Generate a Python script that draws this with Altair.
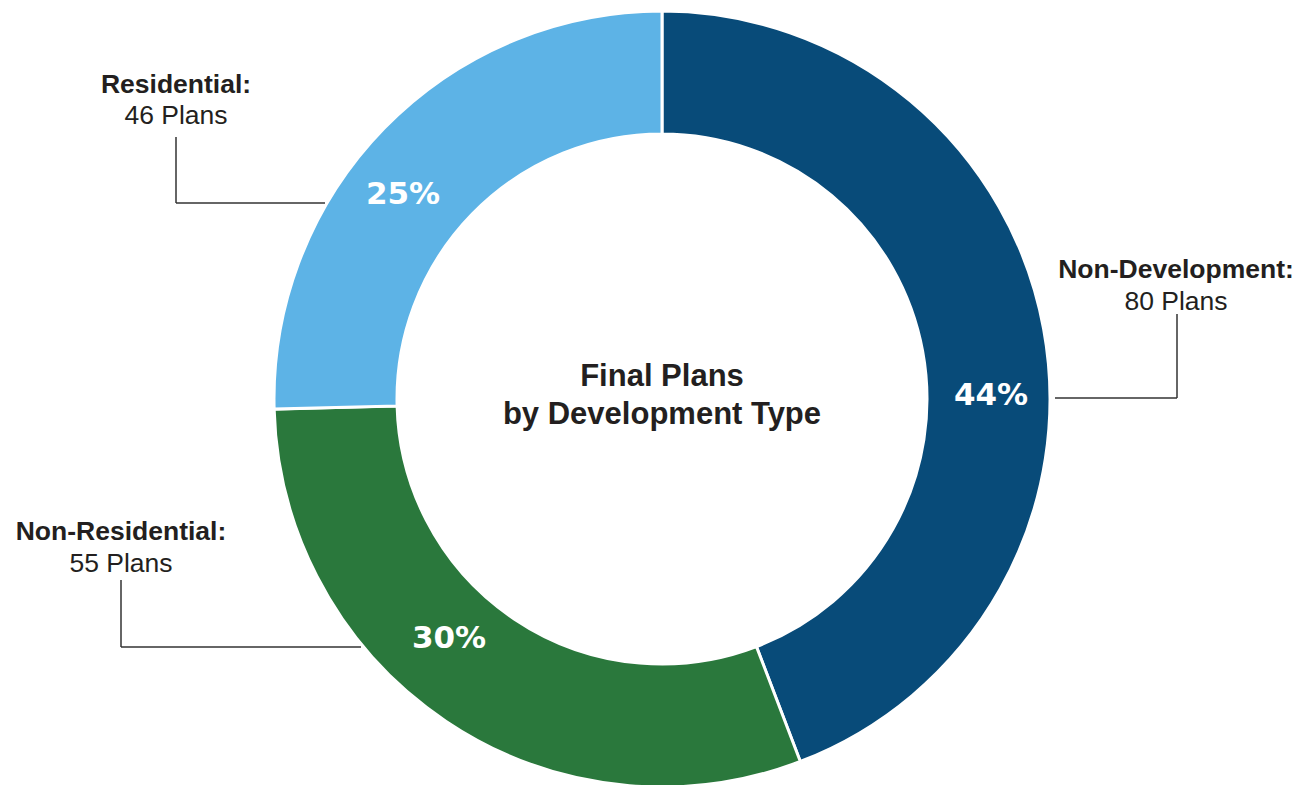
import altair as alt
import pandas as pd

categories = ["Non-Development", "Non-Residential", "Residential"]
plans = [80, 55, 46]
colors = ["#084B79", "#2A783C", "#5DB3E6"]
center_title = ["Final Plans", "by Development Type"]

total = sum(plans)
df = pd.DataFrame({
    "category": categories,
    "plans": plans,
    "idx": list(range(len(categories))),
    "pct": [f"{round(100 * p / total)}%" for p in plans],
    "name": [c + ":" for c in categories],
    "count_label": [f"{p} Plans" for p in plans],
})

# layout (chart coords = page coords - 8)
OFF = 8
CX, CY = 662 - OFF, 399 - OFF
R_OUT, R_IN = 388, 265

pct_pos = {"Non-Development": (991, 396), "Non-Residential": (449, 639), "Residential": (403, 195)}
label_pos = {"Non-Development": (1176, 278, 310), "Non-Residential": (121, 540, 572), "Residential": (176, 93, 124)}
leaders = {
    "Non-Development": [((1055, 398), (1177, 398)), ((1177, 398), (1177, 314))],
    "Non-Residential": [((121, 647), (361, 647)), ((121, 647), (121, 580))],
    "Residential": [((176, 203), (325, 203)), ((176, 203), (176, 137))],
}

base = alt.Chart(df)

arc = base.mark_arc(outerRadius=R_OUT, innerRadius=R_IN, stroke="white", strokeWidth=3).encode(
    theta=alt.Theta("plans:Q", stack=True),
    color=alt.Color("category:N", scale=alt.Scale(domain=categories, range=colors), legend=None),
    order=alt.Order("idx:Q"),
    x=alt.value(CX),
    y=alt.value(CY),
)

layers = [arc]

for cat in categories:
    px, py = pct_pos[cat]
    layers.append(
        base.transform_filter(alt.datum.category == cat)
        .mark_text(font="DejaVu Sans", fontWeight="bold", fontSize=31, color="white",
                   align="center", baseline="middle")
        .encode(text="pct:N", x=alt.value(px - OFF), y=alt.value(py - OFF))
    )
    lx, ly1, ly2 = label_pos[cat]
    layers.append(
        base.transform_filter(alt.datum.category == cat)
        .mark_text(font="Liberation Sans", fontWeight="bold", fontSize=26.5, color="#231F20",
                   align="center", baseline="alphabetic")
        .encode(text="name:N", x=alt.value(lx - OFF), y=alt.value(ly1 - OFF))
    )
    layers.append(
        base.transform_filter(alt.datum.category == cat)
        .mark_text(font="Liberation Sans", fontSize=26.5, color="#231F20",
                   align="center", baseline="alphabetic")
        .encode(text="count_label:N", x=alt.value(lx - OFF), y=alt.value(ly2 - OFF))
    )
    for (x1, y1), (x2, y2) in leaders[cat]:
        layers.append(
            base.transform_filter(alt.datum.category == cat)
            .mark_rule(color="#333333", strokeWidth=1.5)
            .encode(x=alt.value(x1 - OFF), x2=alt.value(x2 - OFF),
                    y=alt.value(y1 - OFF), y2=alt.value(y2 - OFF))
        )

title_df = pd.DataFrame({"line": center_title, "row": [0, 1]})
for i, line in enumerate(center_title):
    layers.append(
        alt.Chart(title_df).transform_filter(alt.datum.row == i)
        .mark_text(font="Liberation Sans", fontWeight="bold", fontSize=31, color="#231F20",
                   align="center", baseline="alphabetic")
        .encode(text="line:N", x=alt.value(CX), y=alt.value([386, 424][i] - OFF))
    )

chart = alt.layer(*layers).properties(
    width=1285, height=777, padding=0, autosize=alt.AutoSizeParams(type="none")
).configure_view(stroke=None)

chart.save("out.html", embed_options={"renderer": "svg", "actions": False})
